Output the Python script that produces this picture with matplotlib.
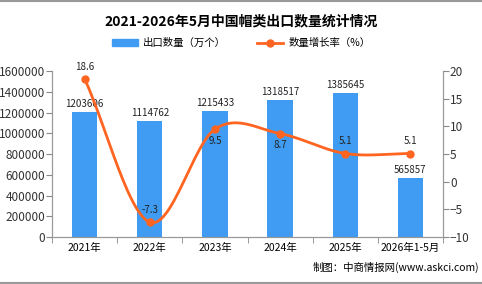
import numpy as np
import matplotlib
matplotlib.use("Agg")
import matplotlib.pyplot as plt
from matplotlib.lines import Line2D
from matplotlib.ticker import FuncFormatter

plt.rcParams['font.family'] = ['Noto Sans CJK SC', 'DejaVu Sans']

categories = ["2021年", "2022年", "2023年", "2024年", "2025年", "2026年1-5月"]
volume = [1203606, 1114762, 1215433, 1318517, 1385645, 565857]
growth = [18.6, -7.3, 9.5, 8.7, 5.1, 5.1]
growth_above = [True, True, False, False, True, True]

BAR_COLOR = "#3f9cf2"
LINE_COLOR = "#ff6420"


def smooth(xs, ys, n=30):
    # catmull-rom curve through the points, just for drawing
    xs = np.asarray(xs, float)
    ys = np.asarray(ys, float)
    px = np.concatenate([[2 * xs[0] - xs[1]], xs, [2 * xs[-1] - xs[-2]]])
    py = np.concatenate([[2 * ys[0] - ys[1]], ys, [2 * ys[-1] - ys[-2]]])
    outx, outy = [], []
    t = np.linspace(0, 1, n)
    for i in range(1, len(px) - 2):
        for p, out in ((px, outx), (py, outy)):
            p0, p1, p2, p3 = p[i - 1], p[i], p[i + 1], p[i + 2]
            out.extend(0.5 * ((2 * p1) + (-p0 + p2) * t
                              + (2 * p0 - 5 * p1 + 4 * p2 - p3) * t ** 2
                              + (-p0 + 3 * p1 - 3 * p2 + p3) * t ** 3))
    return outx, outy


fig = plt.figure(figsize=(4.82, 2.84), dpi=100)
ax = fig.add_axes([0.108, 0.165, 0.811, 0.585])
ax2 = ax.twinx()

x = np.arange(len(categories))
ax.bar(x, volume, width=0.39, color=BAR_COLOR, zorder=2)
for xi, v in zip(x, volume):
    ax.text(xi, v + 30000, str(v), ha="center", va="bottom", fontsize=7, color="#222222")

ax.set_xlim(-0.5, len(categories) - 0.5)
ax.set_ylim(0, 1600000)
ax.set_yticks(np.arange(0, 1600001, 200000))
ax.yaxis.set_major_formatter(FuncFormatter(lambda v, p: "%d" % v))
ax.set_xticks(x)
ax.set_xticklabels(categories, fontsize=7.5)
ax.set_xticks(np.arange(-0.5, len(categories), 1), minor=True)
ax.tick_params(axis="x", which="major", length=0, pad=4)
ax.tick_params(axis="x", which="minor", length=4, color="#888888")
ax.tick_params(axis="y", length=4, color="#888888", labelsize=8.5, pad=1, labelcolor="#333333")

sx, sy = smooth(x, growth)
ax2.plot(sx, sy, color=LINE_COLOR, lw=2, zorder=3)
ax2.plot(x, growth, "o", color=LINE_COLOR, ms=5, zorder=4)
for xi, g, up in zip(x, growth, growth_above):
    if up:
        ax2.text(xi, g + 1.3, str(g), ha="center", va="bottom", fontsize=7, color="#222222")
    else:
        ax2.text(xi, g - 1.2, str(g), ha="center", va="top", fontsize=7, color="#222222")
ax2.set_ylim(-10, 20)
ax2.set_yticks(np.arange(-10, 21, 5))
ax2.tick_params(axis="y", length=4, color="#888888", labelsize=8.5, pad=1, labelcolor="#333333")

for a in (ax, ax2):
    a.spines["top"].set_visible(False)
    for s in ("left", "right", "bottom"):
        a.spines[s].set_color("#999999")

fig.text(0.5, 0.925, "2021-2026年5月中国帽类出口数量统计情况", ha="center", va="center",
         fontsize=10, fontweight="bold")
handles = [plt.Rectangle((0, 0), 1, 1, color=BAR_COLOR),
           Line2D([0], [0], color=LINE_COLOR, lw=2, marker="o", ms=5)]
fig.legend(handles, ["出口数量（万个）", "数量增长率（%）"], loc="center",
           bbox_to_anchor=(0.5, 0.848), ncol=2, frameon=False, fontsize=7.5,
           handlelength=2.5, columnspacing=3, handletextpad=0.5)
fig.text(0.995, 0.06, "制图：中商情报网(www.askci.com)", ha="right", va="center", fontsize=7.5)

fig.add_artist(Line2D([0, 1], [0.997, 0.997], color="#999999", lw=1.5))
fig.add_artist(Line2D([0, 1], [0.005, 0.005], color="#999999", lw=1.5))

fig.savefig("out.png", dpi=100)
